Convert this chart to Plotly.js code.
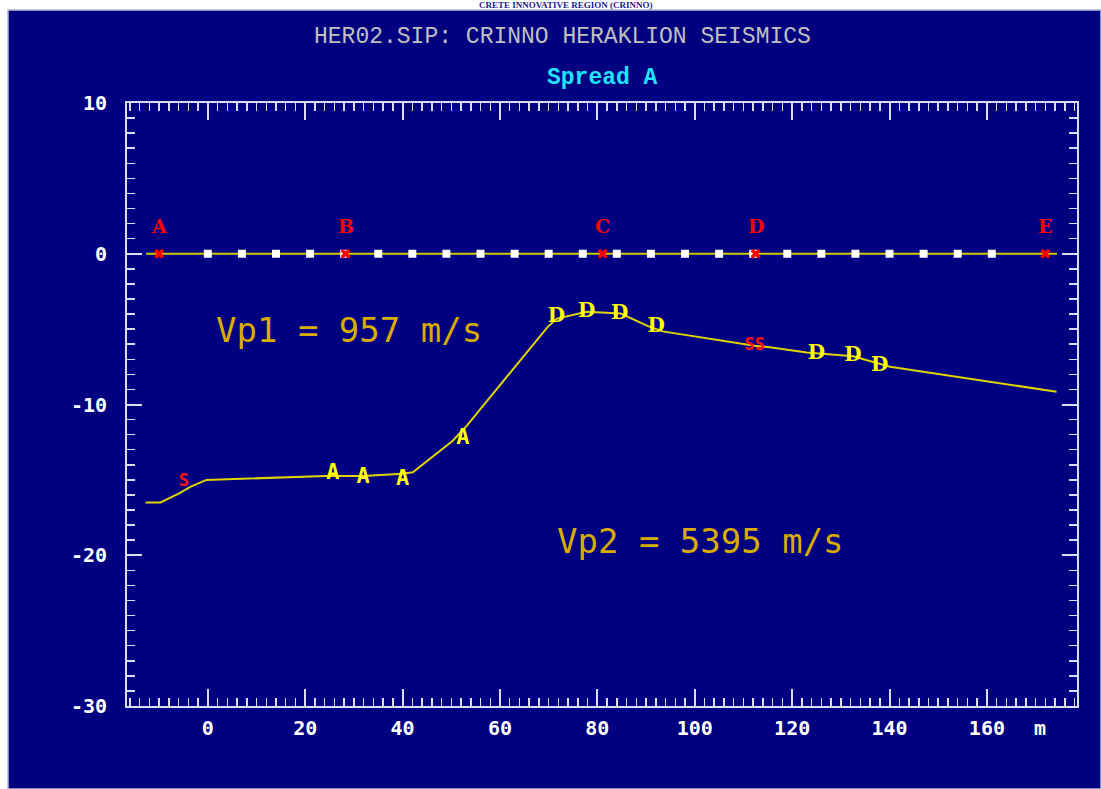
<!DOCTYPE html>
<html><head><meta charset="utf-8">
<script src="https://cdn.plot.ly/plotly-3.0.1.min.js"></script>
<style>html,body{margin:0;padding:0;background:#fff;}</style>
</head><body><div id="chart" style="width:1101px;height:789px;"></div>
<script>
// ---- data ----
const shotNames = ['A', 'B', 'C', 'D', 'E'];
const shotX = [-10, 28.3, 81.1, 112.5, 172];
const spreadLineX = [-12.7, 174.4];
const spreadLineY = [0, 0];
const geophoneX = [0, 7, 14, 21, 28, 35, 42, 49, 56, 63, 70, 77, 84, 91, 98, 105, 112, 119, 126, 133, 140, 147, 154, 161];

const refractorX = [-12.8, -9.7, -5.9, -3.5, -0.3, 10.3, 17.3, 24.2, 32.0, 40.0, 42.1, 50.3, 53.2, 69.8, 71.7, 77.8, 84.8, 90.4, 93.4, 109.3, 112.3, 115.4, 123.0, 132.5, 136.6, 140.1, 174.3];
const refractorY = [-16.5, -16.5, -15.9, -15.45, -15.0, -14.9, -14.8, -14.75, -14.75, -14.6, -14.5, -12.4, -11.4, -4.85, -4.3, -3.85, -3.97, -4.8, -5.15, -5.95, -6.1, -6.2, -6.55, -6.8, -7.2, -7.5, -9.15];

const labelAX = [25.7, 31.9, 40.0, 52.4];
const labelAY = [-14.55, -14.85, -14.95, -12.25];
const labelDX = [71.6, 77.8, 84.6, 92.1, 125.0, 132.5, 138.0];
const labelDY = [-4.2, -3.87, -3.98, -4.86, -6.64, -6.77, -7.43];
const labelSX = [-4.9, 112.3];
const labelSY = [-15.1, -6.1];
const labelSText = ['S', 'SS'];

const xTickVals = [0, 20, 40, 60, 80, 100, 120, 140, 160];
const xTickText = ['0', '20', '40', '60', '80', '100', '120', '140', '160'];
const yTickVals = [10, 0, -10, -20, -30];
const yTickText = ['10', '0', '-10', '-20', '-30'];

const chartTitle = 'HER02.SIP: CRINNO HERAKLION SEISMICS';
const subTitle = 'Spread A';
const pageCaption = 'CRETE INNOVATIVE REGION (CRINNO)';
const vp1Text = 'Vp1 = 957 m/s';
const vp2Text = 'Vp2 = 5395 m/s';
const xUnit = 'm';

// ---- styling ----
const BG = '#000080';
const AXIS = '#dcdcf0';
const MONO = 'DejaVu Sans Mono, monospace';

const traces = [
  { x: spreadLineX, y: spreadLineY, mode: 'lines', line: { color: '#d0c800', width: 2 }, hoverinfo: 'skip' },
  { x: geophoneX, y: geophoneX.map(() => 0), mode: 'markers',
    marker: { symbol: 'square', size: 8, color: '#ffffff', line: { width: 0 } } },
  { x: shotX, y: shotX.map(() => 0), mode: 'markers',
    marker: { symbol: 'x', size: 9, color: '#ff0000', line: { width: 0 } } },
  { x: refractorX, y: refractorY, mode: 'lines', line: { color: '#e0d400', width: 2 } },
  { x: labelAX, y: labelAY, mode: 'text', text: labelAX.map(() => 'A'), textposition: 'middle center',
    textfont: { family: MONO, size: 22, color: '#ffff00', weight: 'bold' } },
  { x: labelDX, y: labelDY, mode: 'text', text: labelDX.map(() => 'D'), textposition: 'middle center',
    textfont: { family: 'DejaVu Serif, serif', size: 20, color: '#ffff00', weight: 'bold' } },
  { x: labelSX, y: labelSY, mode: 'text', text: labelSText, textposition: 'middle center',
    textfont: { family: MONO, size: 17, color: '#ff1010', weight: 'bold' } }
];

const annotations = [
  { xref: 'paper', yref: 'paper', x: (565 - 127) / 950, y: 1 + (103 - 5) / 603, xanchor: 'center', yanchor: 'middle',
    text: pageCaption, showarrow: false, font: { family: 'Liberation Serif, serif', size: 9, color: '#1a1a8a', weight: 'bold' } },
  { xref: 'paper', yref: 'paper', x: (562 - 127) / 950, y: (706 - 37) / 603, xanchor: 'center', yanchor: 'middle',
    text: chartTitle, showarrow: false, font: { family: 'Liberation Mono, monospace', size: 23, color: '#c0c0c0' } },
  { xref: 'paper', yref: 'paper', x: (602 - 127) / 950, y: (706 - 78) / 603, xanchor: 'center', yanchor: 'middle',
    text: subTitle, showarrow: false, font: { family: 'Liberation Mono, monospace', size: 23, color: '#20e4ff', weight: 'bold' } },
  { xref: 'paper', yref: 'paper', x: (349 - 127) / 950, y: (706 - 330) / 603, xanchor: 'center', yanchor: 'middle',
    text: vp1Text, showarrow: false, font: { family: MONO, size: 34, color: '#d8ac00' } },
  { xref: 'paper', yref: 'paper', x: (700 - 127) / 950, y: (706 - 541) / 603, xanchor: 'center', yanchor: 'middle',
    text: vp2Text, showarrow: false, font: { family: MONO, size: 34, color: '#d8ac00' } },
  { xref: 'paper', yref: 'paper', x: (1040 - 127) / 950, y: (706 - 728) / 603, xanchor: 'center', yanchor: 'middle',
    text: xUnit, showarrow: false, font: { family: MONO, size: 20, color: '#ffffff', weight: 'bold' } }
].concat(shotNames.map((n, i) => ({
  x: shotX[i], y: 0, xref: 'x', yref: 'y', yshift: 28, xanchor: 'center', yanchor: 'middle',
  text: n, showarrow: false, font: { family: 'DejaVu Serif, serif', size: 19, color: '#ff0000', weight: 'bold' }
})));

const axisCommon = {
  showgrid: false, zeroline: false, showline: true, linecolor: AXIS, linewidth: 2,
  mirror: 'allticks', ticks: 'inside', tickcolor: AXIS, tickwidth: 2,
  tickfont: { family: MONO, size: 20, color: '#ffffff', weight: 'bold' }, fixedrange: true
};

const layout = {
  width: 1101, height: 789,
  margin: { l: 127, r: 24, t: 103, b: 83 },
  paper_bgcolor: '#ffffff', plot_bgcolor: 'rgba(0,0,0,0)',
  showlegend: false,
  xaxis: Object.assign({}, axisCommon, {
    range: [-16.6, 178.5], tickmode: 'array', tickvals: xTickVals, ticktext: xTickText,
    ticklen: 17, ticklabelstandoff: 3,
    minor: { tickmode: 'linear', tick0: 0, dtick: 2, ticks: 'inside', ticklen: 8, tickwidth: 1.5, tickcolor: AXIS }
  }),
  yaxis: Object.assign({}, axisCommon, {
    range: [-30, 10], tickmode: 'array', tickvals: yTickVals, ticktext: yTickText,
    ticklen: 15, ticklabelstandoff: 14,
    minor: { tickmode: 'linear', tick0: 0, dtick: 1, ticks: 'inside', ticklen: 8, tickwidth: 1.5, tickcolor: AXIS }
  }),
  shapes: [{
    type: 'rect', xref: 'paper', yref: 'paper', layer: 'below',
    x0: (8 - 127) / 950, x1: (1101 - 127) / 950, y0: -83 / 603, y1: 1 + (103 - 10) / 603,
    fillcolor: BG, line: { color: '#b8b8d0', width: 1.5 }
  }],
  annotations: annotations
};

Plotly.newPlot('chart', traces, layout, { displayModeBar: false, staticPlot: true });
</script>
</body></html>
